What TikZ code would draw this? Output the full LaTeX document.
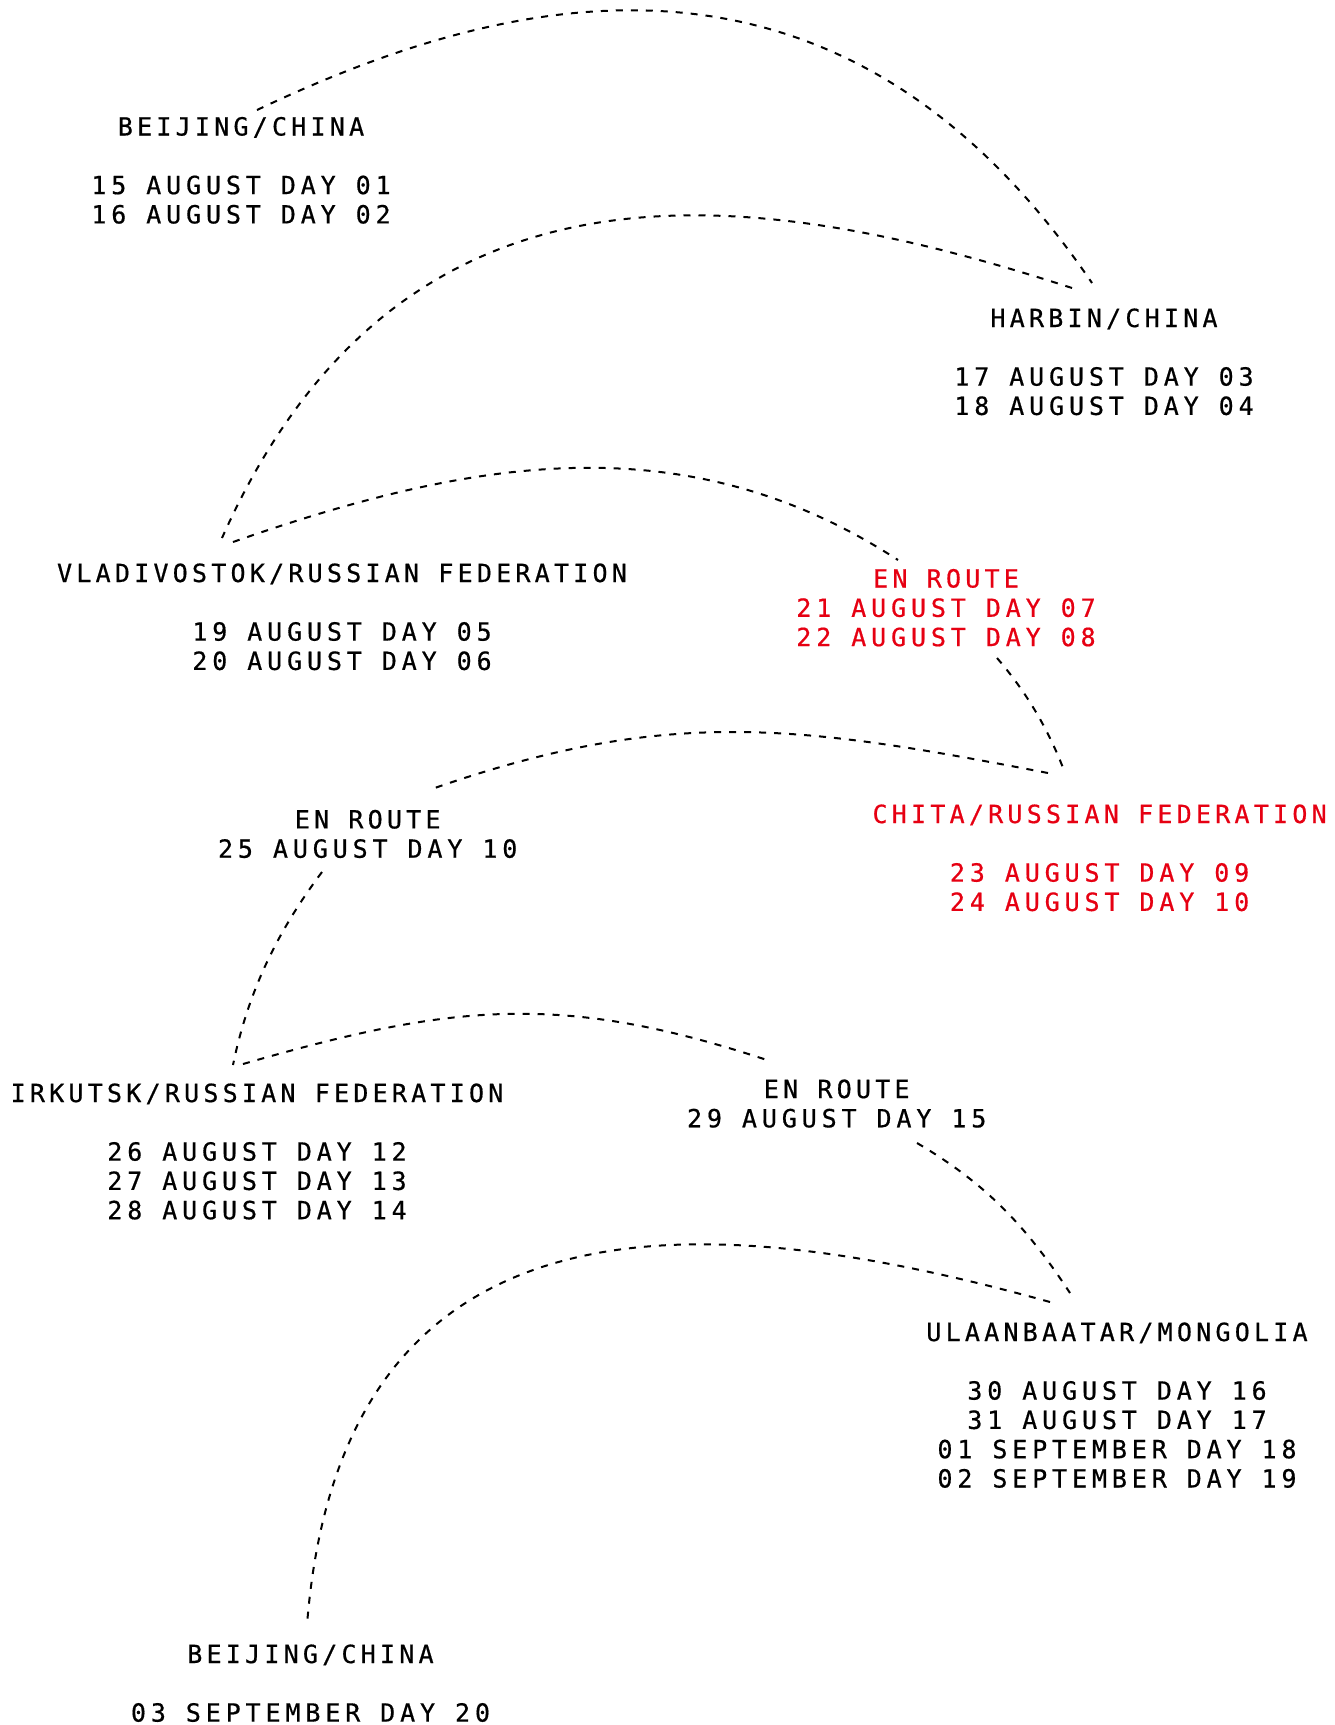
\documentclass[tikz,border=0pt]{standalone}
\usepackage{fontspec}
\newfontfamily\labfont{DejaVu Sans Mono}[LetterSpace=19.5,FakeBold=0.6]
\newfontfamily\titfont{DejaVu Sans Mono}[LetterSpace=16.9,FakeBold=0.6]
\definecolor{routered}{RGB}{230,0,18}
\newcommand\placestack[1]{\begin{tabular}[t]{@{}c@{}}#1\end{tabular}}
\newcommand\placetitle[1]{{\titfont\fontsize{25}{29.3}\selectfont #1}}
\tikzset{
  placelabel/.style={anchor=base, inner sep=0pt, text=black,
    font=\labfont\fontsize{25}{29.3}\selectfont},
  redlabel/.style={placelabel, text=routered},
  route/.style={draw=black, line width=2pt, dash pattern=on 7pt off 8pt},
}
\begin{document}
\begin{tikzpicture}[x=1pt,y=-1pt]
\useasboundingbox (0,0) rectangle (1334,1725);
% labels
\node[placelabel] (beijing1) at (241,135.5) {\placestack{\placetitle{BEIJING/CHINA}\\ \\ 15 AUGUST DAY 01\\ 16 AUGUST DAY 02}};
\node[placelabel] (harbin) at (1104,327) {\placestack{\placetitle{HARBIN/CHINA}\\ \\ 17 AUGUST DAY 03\\ 18 AUGUST DAY 04}};
\node[placelabel] (vlad) at (342,582) {\placestack{\placetitle{VLADIVOSTOK/RUSSIAN FEDERATION}\\ \\ 19 AUGUST DAY 05\\ 20 AUGUST DAY 06}};
\node[redlabel] (route1) at (946,587.5) {\placestack{\placetitle{EN ROUTE}\\ 21 AUGUST DAY 07\\ 22 AUGUST DAY 08}};
\node[redlabel] (chita) at (1099.6,823) {\placestack{\placetitle{CHITA/RUSSIAN FEDERATION}\\ \\ 23 AUGUST DAY 09\\ 24 AUGUST DAY 10}};
\node[placelabel] (route2) at (367.7,828.4) {\placestack{\placetitle{EN ROUTE}\\ 25 AUGUST DAY 10}};
\node[placelabel] (irkutsk) at (257,1102) {\placestack{\placetitle{IRKUTSK/RUSSIAN FEDERATION}\\ \\ 26 AUGUST DAY 12\\ 27 AUGUST DAY 13\\ 28 AUGUST DAY 14}};
\node[placelabel] (route3) at (836.7,1098) {\placestack{\placetitle{EN ROUTE}\\ 29 AUGUST DAY 15}};
\node[placelabel] (ulaan) at (1117,1341) {\placestack{\placetitle{ULAANBAATAR/MONGOLIA}\\ \\ 30 AUGUST DAY 16\\ 31 AUGUST DAY 17\\ 01 SEPTEMBER DAY 18\\ 02 SEPTEMBER DAY 19}};
\node[placelabel] (beijing2) at (310.5,1663) {\placestack{\placetitle{BEIJING/CHINA}\\ \\ 03 SEPTEMBER DAY 20}};
% connector ends
\coordinate (a0) at (257,110);   \coordinate (a1) at (1092,283);
\coordinate (b0) at (1072,288);  \coordinate (b1) at (222,538);
\coordinate (c0) at (233,542);   \coordinate (c1) at (898,560);
\coordinate (d0) at (997,658);   \coordinate (d1) at (1065,773);
\coordinate (e0) at (1048,773);  \coordinate (e1) at (429,790);
\coordinate (f0) at (322,872);   \coordinate (f1) at (233,1065);
\coordinate (g0) at (243,1064);  \coordinate (g1) at (770,1061);
\coordinate (h0) at (917,1143);  \coordinate (h1) at (1070,1293);
\coordinate (i0) at (1050,1302); \coordinate (i1) at (307,1625);
% connectors
\draw[route] (a0) .. controls (500,-5) and (835,-95) .. (a1);
\draw[route] (b0) .. controls (743,181) and (399,141) .. (b1);
\draw[route] (c0) .. controls (470,459) and (685,421.5) .. (c1);
\draw[route] (d0) .. controls (1026.6,692.2) and (1049.2,730.6) .. (d1);
\draw[route] (e0) .. controls (802.5,726) and (670,705) .. (e1);
\draw[route] (f0) .. controls (277,932) and (248,992) .. (f1);
\draw[route] (g0) .. controls (451,1004) and (561,991.5) .. (g1);
\draw[route] (h0) .. controls (986,1183.5) and (1026,1226) .. (h1);
\draw[route] (i0) .. controls (712,1208) and (342,1177) .. (i1);
\end{tikzpicture}
\end{document}
